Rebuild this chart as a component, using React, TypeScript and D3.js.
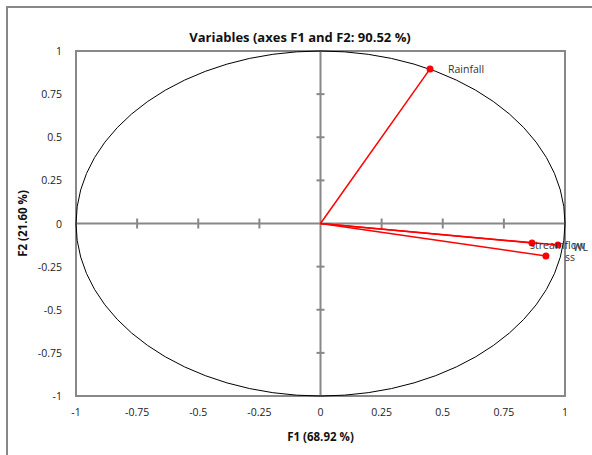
import * as d3 from "d3";
import React, { useEffect, useRef } from "react";

const variables = ["Rainfall", "streamflow", "WL", "ss"];
const f1Values = [0.448, 0.865, 0.971, 0.922];
const f2Values = [0.896, -0.113, -0.125, -0.188];
const tickValues = [-1, -0.75, -0.5, -0.25, 0, 0.25, 0.5, 0.75, 1];

const W = 592;
const H = 455;

export default function App() {
  const svgRef = useRef<SVGSVGElement | null>(null);

  useEffect(() => {
    const svg = d3.select(svgRef.current);
    svg.selectAll("*").remove();

    const font = "Open Sans, Liberation Sans, sans-serif";
    const margin = { top: 51, right: 27, bottom: 59, left: 76 };
    const x = d3.scaleLinear().domain([-1, 1]).range([margin.left, W - margin.right]);
    const y = d3.scaleLinear().domain([-1, 1]).range([H - margin.bottom, margin.top]);

    // outer chart frame
    svg
      .append("rect")
      .attr("x", 7)
      .attr("y", 7)
      .attr("width", W + 10)
      .attr("height", H + 10)
      .attr("fill", "white")
      .attr("stroke", "#888")
      .attr("stroke-width", 2);

    // plot area
    svg
      .append("rect")
      .attr("x", x(-1))
      .attr("y", y(1))
      .attr("width", x(1) - x(-1))
      .attr("height", y(-1) - y(1))
      .attr("fill", "white")
      .attr("stroke", "#888")
      .attr("stroke-width", 2);

    // zero axes
    svg
      .append("line")
      .attr("x1", x(-1))
      .attr("x2", x(1))
      .attr("y1", y(0))
      .attr("y2", y(0))
      .attr("stroke", "#888")
      .attr("stroke-width", 2);
    svg
      .append("line")
      .attr("x1", x(0))
      .attr("x2", x(0))
      .attr("y1", y(-1))
      .attr("y2", y(1))
      .attr("stroke", "#888")
      .attr("stroke-width", 2);

    // tick marks on zero axes
    svg
      .selectAll(".xtick")
      .data(tickValues.filter((t) => Math.abs(t) < 1 && t !== 0))
      .enter()
      .append("line")
      .attr("x1", (d) => x(d))
      .attr("x2", (d) => x(d))
      .attr("y1", y(0) - 5)
      .attr("y2", y(0) + 5)
      .attr("stroke", "#888")
      .attr("stroke-width", 2);
    svg
      .selectAll(".ytick")
      .data(tickValues.filter((t) => Math.abs(t) < 1 && t !== 0))
      .enter()
      .append("line")
      .attr("x1", x(0) - 4)
      .attr("x2", x(0) + 4)
      .attr("y1", (d) => y(d))
      .attr("y2", (d) => y(d))
      .attr("stroke", "#888")
      .attr("stroke-width", 2);

    // tick labels
    svg
      .selectAll(".xlab")
      .data(tickValues)
      .enter()
      .append("text")
      .attr("x", (d) => x(d))
      .attr("y", y(-1) + 20)
      .attr("text-anchor", "middle")
      .attr("font-family", font)
      .attr("font-size", 10.5)
      .attr("fill", "#222")
      .text((d) => String(d));
    svg
      .selectAll(".ylab")
      .data(tickValues)
      .enter()
      .append("text")
      .attr("x", x(-1) - 14)
      .attr("y", (d) => y(d) + 4)
      .attr("text-anchor", "end")
      .attr("font-family", font)
      .attr("font-size", 10.5)
      .attr("fill", "#222")
      .text((d) => String(d));

    // correlation circle
    svg
      .append("ellipse")
      .attr("cx", x(0))
      .attr("cy", y(0))
      .attr("rx", x(1) - x(0))
      .attr("ry", y(0) - y(1))
      .attr("fill", "none")
      .attr("stroke", "black")
      .attr("stroke-width", 1);

    const pts = variables.map((name, i) => ({ name, f1: f1Values[i], f2: f2Values[i] }));

    svg
      .selectAll(".vec")
      .data(pts)
      .enter()
      .append("line")
      .attr("x1", x(0))
      .attr("y1", y(0))
      .attr("x2", (d) => x(d.f1))
      .attr("y2", (d) => y(d.f2))
      .attr("stroke", "red")
      .attr("stroke-width", 1.5);

    svg
      .selectAll(".dot")
      .data(pts)
      .enter()
      .append("circle")
      .attr("cx", (d) => x(d.f1))
      .attr("cy", (d) => y(d.f2))
      .attr("r", 3.5)
      .attr("fill", "red");

    const labelOffsets: Record<string, [number, number]> = {
      Rainfall: [18, 4],
      streamflow: [-2, 6],
      WL: [15, 6],
      ss: [19, 5],
    };
    svg
      .selectAll(".vlab")
      .data(pts)
      .enter()
      .append("text")
      .attr("x", (d) => x(d.f1) + labelOffsets[d.name][0])
      .attr("y", (d) => y(d.f2) + labelOffsets[d.name][1])
      .attr("font-family", font)
      .attr("font-size", 10.5)
      .attr("fill", "#333")
      .text((d) => d.name);

    // titles
    svg
      .append("text")
      .attr("x", 300)
      .attr("y", 42)
      .attr("text-anchor", "middle")
      .attr("font-family", font)
      .attr("font-weight", "bold")
      .attr("font-size", 13)
      .attr("fill", "#111")
      .text("Variables (axes F1 and F2: 90.52 %)");
    svg
      .append("text")
      .attr("x", x(0))
      .attr("y", 441)
      .attr("text-anchor", "middle")
      .attr("font-family", font)
      .attr("font-weight", "bold")
      .attr("font-size", 11.5)
      .attr("fill", "#111")
      .text("F1 (68.92 %)");
    svg
      .append("text")
      .attr("transform", `translate(27,${y(0)}) rotate(-90)`)
      .attr("text-anchor", "middle")
      .attr("font-family", font)
      .attr("font-weight", "bold")
      .attr("font-size", 11.5)
      .attr("fill", "#111")
      .text("F2 (21.60 %)");
  }, []);

  return (
    <svg
      ref={svgRef}
      width={W}
      height={H}
      style={{ position: "absolute", left: 0, top: 0, display: "block" }}
    />
  );
}
